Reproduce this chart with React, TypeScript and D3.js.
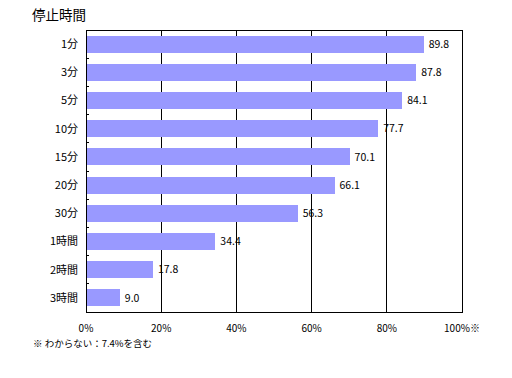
import React from "react";
import * as d3 from "d3";

const categories = ["1分", "3分", "5分", "10分", "15分", "20分", "30分", "1時間", "2時間", "3時間"];
const values = [89.8, 87.8, 84.1, 77.7, 70.1, 66.1, 56.3, 34.4, 17.8, 9.0];
const ticks = [0, 20, 40, 60, 80, 100];
const tickLabels = ["0%", "20%", "40%", "60%", "80%", "100%※"];
const title = "停止時間";
const footnote = "※ わからない：7.4%を含む";

const W = 512, H = 378;
const left = 86, right = 462, top = 30, bottom = 312;
const font = "'Noto Sans CJK JP', 'Noto Sans', sans-serif";

export default function App() {
  const x = d3.scaleLinear().domain([0, 100]).range([left, right]);
  const y = d3.scaleBand<string>().domain(categories).range([top, bottom]).paddingInner(0.4).paddingOuter(0.2);
  const step = y.step();
  return (
    <svg width={W} height={H} style={{ position: "absolute", left: 0, top: 0, background: "#fff" }} fontFamily={font}>
      <rect x={0} y={0} width={W} height={H} fill="#fff" />
      <text x={32} y={20} fontSize={13.5} fill="#000">{title}</text>
      {ticks.slice(1, -1).map((t) => (
        <line key={t} x1={x(t)} x2={x(t)} y1={top} y2={bottom} stroke="#000" strokeWidth={1} shapeRendering="crispEdges" />
      ))}
      {categories.map((c, i) => (
        <rect key={c} x={x(0)} y={y(c)!} width={x(values[i]) - x(0)} height={y.bandwidth()} fill="#9999FF" shapeRendering="crispEdges" />
      ))}
      <rect x={left} y={top} width={right - left} height={bottom - top} fill="none" stroke="#000" strokeWidth={1} shapeRendering="crispEdges" />
      {categories.slice(1).map((c, i) => (
        <line key={"t" + c} x1={left} x2={left + 3} y1={top + step * (i + 1)} y2={top + step * (i + 1)} stroke="#000" shapeRendering="crispEdges" />
      ))}
      {categories.map((c, i) => (
        <text key={"l" + c} x={left - 8} y={y(c)! + y.bandwidth() / 2} dy="0.35em" textAnchor="end" fontSize={11} fill="#000">{c}</text>
      ))}
      {categories.map((c, i) => (
        <text key={"v" + c} x={x(values[i]) + 5} y={y(c)! + y.bandwidth() / 2} dy="0.35em" fontSize={10.5} fill="#000">{values[i].toFixed(1)}</text>
      ))}
      {ticks.map((t, i) => (
        <text key={"x" + t} x={x(t)} y={332} textAnchor="middle" fontSize={10} fill="#000">{tickLabels[i]}</text>
      ))}
      <text x={33} y={347} fontSize={9.5} fill="#000">{footnote}</text>
    </svg>
  );
}
